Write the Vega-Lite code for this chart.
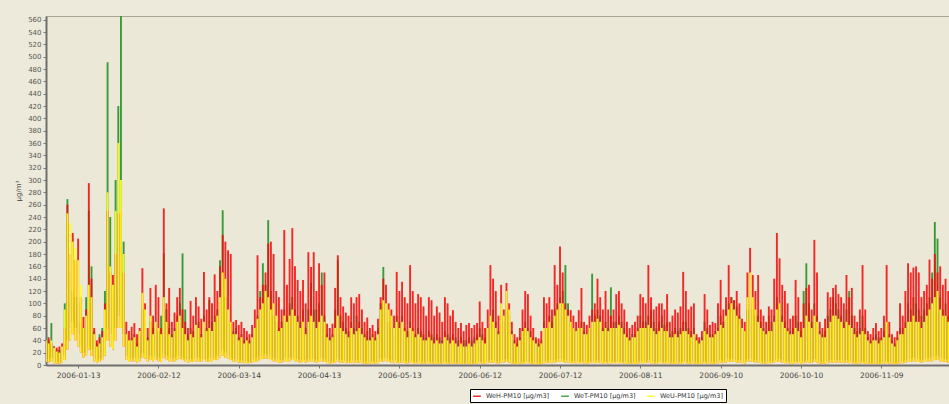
{
"$schema": "https://vega.github.io/schema/vega-lite/v6.json",
"width": 903,
"height": 349,
"autosize": {"type": "none"},
"padding": {"left": 46, "top": 16, "right": 0, "bottom": 39},
"background": "#EEEADB",
"config": {"view": {"fill": "#ECE8D8", "stroke": "#A8A496", "strokeWidth": 1}, "font": "DejaVu Sans", "axisY": {"labelOverlap": false}},
"data": {"values": [
{"d":"2006-01-01","h":40,"t":45,"u":40,"ul":12,"gl":5},
{"d":"2006-01-02","h":45,"t":40,"u":35,"ul":10,"gl":4},
{"d":"2006-01-03","h":35,"t":68,"u":40,"ul":12,"gl":6},
{"d":"2006-01-04","h":30,"t":30,"u":28,"ul":8,"gl":3},
{"d":"2006-01-05","h":28,"t":25,"u":22,"ul":5,"gl":2},
{"d":"2006-01-06","h":30,"t":25,"u":20,"ul":5,"gl":2},
{"d":"2006-01-07","h":35,"t":30,"u":30,"ul":8,"gl":4},
{"d":"2006-01-08","h":60,"t":100,"u":90,"ul":15,"gl":8},
{"d":"2006-01-09","h":260,"t":269,"u":246,"ul":40,"gl":25},
{"d":"2006-01-10","h":180,"t":150,"u":230,"ul":60,"gl":40},
{"d":"2006-01-11","h":214,"t":120,"u":200,"ul":70,"gl":50},
{"d":"2006-01-12","h":170,"t":110,"u":190,"ul":60,"gl":40},
{"d":"2006-01-13","h":205,"t":100,"u":170,"ul":50,"gl":30},
{"d":"2006-01-14","h":110,"t":70,"u":130,"ul":30,"gl":20},
{"d":"2006-01-15","h":78,"t":60,"u":60,"ul":20,"gl":12},
{"d":"2006-01-16","h":90,"t":110,"u":80,"ul":20,"gl":15},
{"d":"2006-01-17","h":295,"t":250,"u":130,"ul":30,"gl":25},
{"d":"2006-01-18","h":140,"t":160,"u":110,"ul":25,"gl":15},
{"d":"2006-01-19","h":60,"t":55,"u":50,"ul":10,"gl":6},
{"d":"2006-01-20","h":40,"t":35,"u":30,"ul":8,"gl":4},
{"d":"2006-01-21","h":45,"t":50,"u":35,"ul":10,"gl":5},
{"d":"2006-01-22","h":55,"t":60,"u":45,"ul":12,"gl":8},
{"d":"2006-01-23","h":100,"t":120,"u":90,"ul":20,"gl":15},
{"d":"2006-01-24","h":250,"t":491,"u":280,"ul":60,"gl":40},
{"d":"2006-01-25","h":150,"t":240,"u":160,"ul":50,"gl":30},
{"d":"2006-01-26","h":146,"t":120,"u":130,"ul":40,"gl":25},
{"d":"2006-01-27","h":180,"t":300,"u":250,"ul":60,"gl":40},
{"d":"2006-01-28","h":246,"t":420,"u":360,"ul":80,"gl":60},
{"d":"2006-01-29","h":250,"t":580,"u":300,"ul":80,"gl":60},
{"d":"2006-01-30","h":150,"t":200,"u":180,"ul":50,"gl":30},
{"d":"2006-01-31","h":70,"t":50,"u":50,"ul":15,"gl":8},
{"d":"2006-02-01","h":55,"t":40,"u":40,"ul":10,"gl":5},
{"d":"2006-02-02","h":62,"t":45,"u":40,"ul":10,"gl":6},
{"d":"2006-02-03","h":68,"t":50,"u":45,"ul":12,"gl":6},
{"d":"2006-02-04","h":50,"t":35,"u":30,"ul":8,"gl":4},
{"d":"2006-02-05","h":60,"t":50,"u":55,"ul":10,"gl":6},
{"d":"2006-02-06","h":157,"t":90,"u":117,"ul":20,"gl":12},
{"d":"2006-02-07","h":100,"t":70,"u":90,"ul":15,"gl":10},
{"d":"2006-02-08","h":60,"t":45,"u":40,"ul":10,"gl":5},
{"d":"2006-02-09","h":125,"t":70,"u":80,"ul":15,"gl":8},
{"d":"2006-02-10","h":80,"t":60,"u":50,"ul":12,"gl":6},
{"d":"2006-02-11","h":130,"t":60,"u":70,"ul":15,"gl":8},
{"d":"2006-02-12","h":110,"t":55,"u":60,"ul":12,"gl":6},
{"d":"2006-02-13","h":60,"t":80,"u":50,"ul":10,"gl":5},
{"d":"2006-02-14","h":254,"t":181,"u":110,"ul":20,"gl":12},
{"d":"2006-02-15","h":100,"t":90,"u":70,"ul":15,"gl":8},
{"d":"2006-02-16","h":125,"t":60,"u":50,"ul":12,"gl":6},
{"d":"2006-02-17","h":70,"t":50,"u":45,"ul":10,"gl":5},
{"d":"2006-02-18","h":85,"t":60,"u":55,"ul":12,"gl":6},
{"d":"2006-02-19","h":110,"t":80,"u":70,"ul":15,"gl":8},
{"d":"2006-02-20","h":125,"t":100,"u":80,"ul":15,"gl":10},
{"d":"2006-02-21","h":90,"t":181,"u":60,"ul":12,"gl":8},
{"d":"2006-02-22","h":70,"t":90,"u":50,"ul":10,"gl":6},
{"d":"2006-02-23","h":60,"t":50,"u":40,"ul":8,"gl":4},
{"d":"2006-02-24","h":104,"t":60,"u":50,"ul":10,"gl":5},
{"d":"2006-02-25","h":80,"t":55,"u":45,"ul":10,"gl":5},
{"d":"2006-02-26","h":110,"t":60,"u":65,"ul":12,"gl":6},
{"d":"2006-02-27","h":95,"t":70,"u":60,"ul":12,"gl":6},
{"d":"2006-02-28","h":75,"t":50,"u":45,"ul":10,"gl":5},
{"d":"2006-03-01","h":151,"t":80,"u":70,"ul":12,"gl":8},
{"d":"2006-03-02","h":90,"t":60,"u":55,"ul":10,"gl":5},
{"d":"2006-03-03","h":110,"t":105,"u":60,"ul":12,"gl":6},
{"d":"2006-03-04","h":100,"t":70,"u":55,"ul":10,"gl":5},
{"d":"2006-03-05","h":147,"t":80,"u":70,"ul":12,"gl":8},
{"d":"2006-03-06","h":120,"t":90,"u":80,"ul":15,"gl":8},
{"d":"2006-03-07","h":160,"t":170,"u":110,"ul":20,"gl":12},
{"d":"2006-03-08","h":211,"t":251,"u":150,"ul":25,"gl":15},
{"d":"2006-03-09","h":200,"t":110,"u":140,"ul":20,"gl":12},
{"d":"2006-03-10","h":186,"t":90,"u":90,"ul":15,"gl":10},
{"d":"2006-03-11","h":180,"t":70,"u":70,"ul":12,"gl":8},
{"d":"2006-03-12","h":70,"t":55,"u":50,"ul":10,"gl":5},
{"d":"2006-03-13","h":73,"t":60,"u":50,"ul":10,"gl":5},
{"d":"2006-03-14","h":65,"t":45,"u":40,"ul":8,"gl":4},
{"d":"2006-03-15","h":70,"t":50,"u":45,"ul":8,"gl":4},
{"d":"2006-03-16","h":60,"t":40,"u":35,"ul":6,"gl":3},
{"d":"2006-03-17","h":55,"t":45,"u":40,"ul":6,"gl":3},
{"d":"2006-03-18","h":50,"t":40,"u":35,"ul":5,"gl":3},
{"d":"2006-03-19","h":65,"t":50,"u":45,"ul":8,"gl":4},
{"d":"2006-03-20","h":90,"t":60,"u":60,"ul":10,"gl":5},
{"d":"2006-03-21","h":178,"t":80,"u":75,"ul":12,"gl":6},
{"d":"2006-03-22","h":110,"t":120,"u":90,"ul":15,"gl":8},
{"d":"2006-03-23","h":130,"t":165,"u":100,"ul":15,"gl":10},
{"d":"2006-03-24","h":150,"t":130,"u":120,"ul":18,"gl":10},
{"d":"2006-03-25","h":197,"t":235,"u":110,"ul":15,"gl":10},
{"d":"2006-03-26","h":200,"t":120,"u":90,"ul":12,"gl":8},
{"d":"2006-03-27","h":180,"t":80,"u":100,"ul":12,"gl":6},
{"d":"2006-03-28","h":120,"t":70,"u":80,"ul":10,"gl":5},
{"d":"2006-03-29","h":110,"t":60,"u":55,"ul":8,"gl":4},
{"d":"2006-03-30","h":90,"t":70,"u":60,"ul":8,"gl":4},
{"d":"2006-03-31","h":219,"t":90,"u":80,"ul":12,"gl":6},
{"d":"2006-04-01","h":130,"t":80,"u":70,"ul":10,"gl":5},
{"d":"2006-04-02","h":172,"t":100,"u":80,"ul":12,"gl":6},
{"d":"2006-04-03","h":222,"t":110,"u":90,"ul":12,"gl":8},
{"d":"2006-04-04","h":160,"t":90,"u":80,"ul":10,"gl":6},
{"d":"2006-04-05","h":138,"t":80,"u":70,"ul":10,"gl":5},
{"d":"2006-04-06","h":120,"t":70,"u":60,"ul":8,"gl":4},
{"d":"2006-04-07","h":138,"t":90,"u":70,"ul":10,"gl":5},
{"d":"2006-04-08","h":100,"t":60,"u":50,"ul":8,"gl":4},
{"d":"2006-04-09","h":183,"t":90,"u":70,"ul":10,"gl":5},
{"d":"2006-04-10","h":159,"t":133,"u":80,"ul":12,"gl":6},
{"d":"2006-04-11","h":183,"t":90,"u":70,"ul":10,"gl":5},
{"d":"2006-04-12","h":120,"t":90,"u":60,"ul":8,"gl":4},
{"d":"2006-04-13","h":165,"t":100,"u":70,"ul":10,"gl":5},
{"d":"2006-04-14","h":130,"t":150,"u":80,"ul":12,"gl":6},
{"d":"2006-04-15","h":150,"t":80,"u":70,"ul":10,"gl":5},
{"d":"2006-04-16","h":67,"t":50,"u":45,"ul":6,"gl":3},
{"d":"2006-04-17","h":60,"t":45,"u":40,"ul":5,"gl":2},
{"d":"2006-04-18","h":67,"t":50,"u":45,"ul":6,"gl":3},
{"d":"2006-04-19","h":125,"t":90,"u":60,"ul":8,"gl":4},
{"d":"2006-04-20","h":178,"t":170,"u":80,"ul":10,"gl":6},
{"d":"2006-04-21","h":110,"t":80,"u":60,"ul":8,"gl":4},
{"d":"2006-04-22","h":95,"t":70,"u":55,"ul":8,"gl":4},
{"d":"2006-04-23","h":85,"t":60,"u":50,"ul":6,"gl":3},
{"d":"2006-04-24","h":80,"t":55,"u":45,"ul":6,"gl":3},
{"d":"2006-04-25","h":110,"t":70,"u":60,"ul":8,"gl":4},
{"d":"2006-04-26","h":100,"t":60,"u":50,"ul":6,"gl":3},
{"d":"2006-04-27","h":110,"t":80,"u":55,"ul":8,"gl":4},
{"d":"2006-04-28","h":115,"t":70,"u":60,"ul":8,"gl":4},
{"d":"2006-04-29","h":90,"t":60,"u":50,"ul":6,"gl":3},
{"d":"2006-04-30","h":70,"t":50,"u":45,"ul":5,"gl":2},
{"d":"2006-05-01","h":77,"t":55,"u":40,"ul":5,"gl":2},
{"d":"2006-05-02","h":60,"t":45,"u":40,"ul":5,"gl":2},
{"d":"2006-05-03","h":65,"t":50,"u":45,"ul":6,"gl":3},
{"d":"2006-05-04","h":55,"t":45,"u":40,"ul":5,"gl":2},
{"d":"2006-05-05","h":75,"t":60,"u":50,"ul":6,"gl":3},
{"d":"2006-05-06","h":110,"t":100,"u":90,"ul":10,"gl":5},
{"d":"2006-05-07","h":140,"t":159,"u":105,"ul":12,"gl":6},
{"d":"2006-05-08","h":130,"t":100,"u":100,"ul":12,"gl":6},
{"d":"2006-05-09","h":100,"t":70,"u":90,"ul":10,"gl":5},
{"d":"2006-05-10","h":90,"t":60,"u":80,"ul":8,"gl":4},
{"d":"2006-05-11","h":80,"t":50,"u":60,"ul":6,"gl":3},
{"d":"2006-05-12","h":151,"t":80,"u":70,"ul":8,"gl":4},
{"d":"2006-05-13","h":120,"t":70,"u":60,"ul":6,"gl":3},
{"d":"2006-05-14","h":135,"t":80,"u":70,"ul":8,"gl":4},
{"d":"2006-05-15","h":110,"t":60,"u":55,"ul":6,"gl":3},
{"d":"2006-05-16","h":100,"t":55,"u":45,"ul":5,"gl":2},
{"d":"2006-05-17","h":162,"t":70,"u":60,"ul":8,"gl":4},
{"d":"2006-05-18","h":120,"t":60,"u":55,"ul":6,"gl":3},
{"d":"2006-05-19","h":100,"t":50,"u":45,"ul":5,"gl":2},
{"d":"2006-05-20","h":115,"t":60,"u":50,"ul":6,"gl":3},
{"d":"2006-05-21","h":110,"t":55,"u":45,"ul":5,"gl":2},
{"d":"2006-05-22","h":95,"t":50,"u":40,"ul":5,"gl":2},
{"d":"2006-05-23","h":80,"t":45,"u":40,"ul":5,"gl":2},
{"d":"2006-05-24","h":110,"t":55,"u":45,"ul":6,"gl":3},
{"d":"2006-05-25","h":105,"t":50,"u":40,"ul":5,"gl":2},
{"d":"2006-05-26","h":80,"t":45,"u":35,"ul":5,"gl":2},
{"d":"2006-05-27","h":95,"t":50,"u":40,"ul":5,"gl":2},
{"d":"2006-05-28","h":85,"t":45,"u":35,"ul":4,"gl":2},
{"d":"2006-05-29","h":70,"t":40,"u":35,"ul":4,"gl":2},
{"d":"2006-05-30","h":110,"t":55,"u":45,"ul":6,"gl":3},
{"d":"2006-05-31","h":100,"t":50,"u":40,"ul":5,"gl":2},
{"d":"2006-06-01","h":80,"t":45,"u":35,"ul":4,"gl":2},
{"d":"2006-06-02","h":89,"t":50,"u":40,"ul":5,"gl":2},
{"d":"2006-06-03","h":70,"t":45,"u":35,"ul":4,"gl":2},
{"d":"2006-06-04","h":60,"t":40,"u":30,"ul":4,"gl":2},
{"d":"2006-06-05","h":68,"t":45,"u":35,"ul":4,"gl":2},
{"d":"2006-06-06","h":55,"t":40,"u":30,"ul":3,"gl":1},
{"d":"2006-06-07","h":65,"t":40,"u":30,"ul":4,"gl":2},
{"d":"2006-06-08","h":68,"t":45,"u":35,"ul":4,"gl":2},
{"d":"2006-06-09","h":60,"t":40,"u":30,"ul":3,"gl":1},
{"d":"2006-06-10","h":65,"t":45,"u":35,"ul":4,"gl":2},
{"d":"2006-06-11","h":68,"t":50,"u":40,"ul":5,"gl":2},
{"d":"2006-06-12","h":103,"t":60,"u":45,"ul":6,"gl":3},
{"d":"2006-06-13","h":70,"t":50,"u":40,"ul":5,"gl":2},
{"d":"2006-06-14","h":60,"t":45,"u":35,"ul":4,"gl":2},
{"d":"2006-06-15","h":90,"t":60,"u":60,"ul":6,"gl":3},
{"d":"2006-06-16","h":162,"t":80,"u":80,"ul":8,"gl":4},
{"d":"2006-06-17","h":140,"t":90,"u":70,"ul":8,"gl":4},
{"d":"2006-06-18","h":120,"t":70,"u":60,"ul":6,"gl":3},
{"d":"2006-06-19","h":80,"t":55,"u":50,"ul":5,"gl":2},
{"d":"2006-06-20","h":130,"t":80,"u":100,"ul":8,"gl":4},
{"d":"2006-06-21","h":90,"t":70,"u":80,"ul":8,"gl":4},
{"d":"2006-06-22","h":133,"t":90,"u":120,"ul":10,"gl":5},
{"d":"2006-06-23","h":100,"t":80,"u":90,"ul":8,"gl":4},
{"d":"2006-06-24","h":70,"t":55,"u":50,"ul":5,"gl":2},
{"d":"2006-06-25","h":50,"t":40,"u":35,"ul":4,"gl":2},
{"d":"2006-06-26","h":45,"t":35,"u":30,"ul":3,"gl":1},
{"d":"2006-06-27","h":60,"t":45,"u":40,"ul":4,"gl":2},
{"d":"2006-06-28","h":90,"t":60,"u":55,"ul":5,"gl":2},
{"d":"2006-06-29","h":120,"t":70,"u":60,"ul":6,"gl":3},
{"d":"2006-06-30","h":115,"t":60,"u":55,"ul":6,"gl":3},
{"d":"2006-07-01","h":80,"t":55,"u":45,"ul":5,"gl":2},
{"d":"2006-07-02","h":60,"t":45,"u":40,"ul":4,"gl":2},
{"d":"2006-07-03","h":45,"t":40,"u":35,"ul":3,"gl":1},
{"d":"2006-07-04","h":43,"t":35,"u":30,"ul":3,"gl":1},
{"d":"2006-07-05","h":55,"t":40,"u":35,"ul":4,"gl":2},
{"d":"2006-07-06","h":110,"t":70,"u":60,"ul":6,"gl":3},
{"d":"2006-07-07","h":100,"t":60,"u":60,"ul":6,"gl":3},
{"d":"2006-07-08","h":110,"t":80,"u":70,"ul":8,"gl":4},
{"d":"2006-07-09","h":90,"t":70,"u":60,"ul":6,"gl":3},
{"d":"2006-07-10","h":162,"t":90,"u":80,"ul":8,"gl":4},
{"d":"2006-07-11","h":130,"t":100,"u":90,"ul":10,"gl":5},
{"d":"2006-07-12","h":192,"t":110,"u":100,"ul":10,"gl":5},
{"d":"2006-07-13","h":150,"t":120,"u":100,"ul":10,"gl":5},
{"d":"2006-07-14","h":100,"t":162,"u":90,"ul":8,"gl":4},
{"d":"2006-07-15","h":90,"t":100,"u":80,"ul":8,"gl":4},
{"d":"2006-07-16","h":89,"t":70,"u":70,"ul":6,"gl":3},
{"d":"2006-07-17","h":80,"t":60,"u":60,"ul":6,"gl":3},
{"d":"2006-07-18","h":70,"t":55,"u":55,"ul":5,"gl":2},
{"d":"2006-07-19","h":89,"t":60,"u":60,"ul":6,"gl":3},
{"d":"2006-07-20","h":125,"t":70,"u":60,"ul":6,"gl":3},
{"d":"2006-07-21","h":70,"t":55,"u":50,"ul":5,"gl":2},
{"d":"2006-07-22","h":65,"t":50,"u":50,"ul":5,"gl":2},
{"d":"2006-07-23","h":80,"t":60,"u":60,"ul":6,"gl":3},
{"d":"2006-07-24","h":90,"t":148,"u":70,"ul":6,"gl":3},
{"d":"2006-07-25","h":100,"t":80,"u":70,"ul":6,"gl":3},
{"d":"2006-07-26","h":140,"t":90,"u":75,"ul":8,"gl":4},
{"d":"2006-07-27","h":110,"t":80,"u":70,"ul":6,"gl":3},
{"d":"2006-07-28","h":90,"t":60,"u":55,"ul":5,"gl":2},
{"d":"2006-07-29","h":120,"t":70,"u":60,"ul":6,"gl":3},
{"d":"2006-07-30","h":90,"t":60,"u":55,"ul":5,"gl":2},
{"d":"2006-07-31","h":80,"t":126,"u":60,"ul":6,"gl":3},
{"d":"2006-08-01","h":90,"t":70,"u":60,"ul":6,"gl":3},
{"d":"2006-08-02","h":115,"t":70,"u":60,"ul":6,"gl":3},
{"d":"2006-08-03","h":120,"t":80,"u":65,"ul":6,"gl":3},
{"d":"2006-08-04","h":100,"t":70,"u":60,"ul":6,"gl":3},
{"d":"2006-08-05","h":90,"t":60,"u":50,"ul":5,"gl":2},
{"d":"2006-08-06","h":70,"t":50,"u":45,"ul":4,"gl":2},
{"d":"2006-08-07","h":60,"t":45,"u":40,"ul":4,"gl":2},
{"d":"2006-08-08","h":65,"t":50,"u":45,"ul":4,"gl":2},
{"d":"2006-08-09","h":70,"t":50,"u":45,"ul":5,"gl":2},
{"d":"2006-08-10","h":80,"t":60,"u":55,"ul":5,"gl":2},
{"d":"2006-08-11","h":115,"t":80,"u":60,"ul":6,"gl":3},
{"d":"2006-08-12","h":110,"t":70,"u":60,"ul":6,"gl":3},
{"d":"2006-08-13","h":100,"t":70,"u":60,"ul":6,"gl":3},
{"d":"2006-08-14","h":162,"t":80,"u":65,"ul":8,"gl":4},
{"d":"2006-08-15","h":110,"t":90,"u":60,"ul":6,"gl":3},
{"d":"2006-08-16","h":90,"t":70,"u":55,"ul":5,"gl":2},
{"d":"2006-08-17","h":95,"t":60,"u":50,"ul":5,"gl":2},
{"d":"2006-08-18","h":100,"t":70,"u":55,"ul":6,"gl":3},
{"d":"2006-08-19","h":100,"t":80,"u":60,"ul":6,"gl":3},
{"d":"2006-08-20","h":90,"t":65,"u":55,"ul":5,"gl":2},
{"d":"2006-08-21","h":115,"t":70,"u":55,"ul":6,"gl":3},
{"d":"2006-08-22","h":70,"t":50,"u":45,"ul":4,"gl":2},
{"d":"2006-08-23","h":80,"t":55,"u":45,"ul":5,"gl":2},
{"d":"2006-08-24","h":90,"t":60,"u":50,"ul":5,"gl":2},
{"d":"2006-08-25","h":85,"t":55,"u":45,"ul":5,"gl":2},
{"d":"2006-08-26","h":95,"t":60,"u":50,"ul":5,"gl":2},
{"d":"2006-08-27","h":151,"t":70,"u":55,"ul":6,"gl":3},
{"d":"2006-08-28","h":120,"t":70,"u":55,"ul":6,"gl":3},
{"d":"2006-08-29","h":90,"t":60,"u":50,"ul":5,"gl":2},
{"d":"2006-08-30","h":95,"t":55,"u":45,"ul":5,"gl":2},
{"d":"2006-08-31","h":100,"t":60,"u":50,"ul":5,"gl":2},
{"d":"2006-09-01","h":50,"t":45,"u":40,"ul":4,"gl":2},
{"d":"2006-09-02","h":45,"t":40,"u":35,"ul":3,"gl":1},
{"d":"2006-09-03","h":55,"t":45,"u":40,"ul":4,"gl":2},
{"d":"2006-09-04","h":115,"t":70,"u":55,"ul":6,"gl":3},
{"d":"2006-09-05","h":90,"t":60,"u":50,"ul":5,"gl":2},
{"d":"2006-09-06","h":65,"t":50,"u":45,"ul":4,"gl":2},
{"d":"2006-09-07","h":70,"t":50,"u":45,"ul":5,"gl":2},
{"d":"2006-09-08","h":68,"t":55,"u":50,"ul":5,"gl":2},
{"d":"2006-09-09","h":100,"t":60,"u":55,"ul":6,"gl":3},
{"d":"2006-09-10","h":138,"t":80,"u":65,"ul":8,"gl":4},
{"d":"2006-09-11","h":90,"t":70,"u":60,"ul":6,"gl":3},
{"d":"2006-09-12","h":110,"t":90,"u":80,"ul":8,"gl":4},
{"d":"2006-09-13","h":162,"t":100,"u":90,"ul":10,"gl":5},
{"d":"2006-09-14","h":110,"t":110,"u":100,"ul":10,"gl":5},
{"d":"2006-09-15","h":105,"t":105,"u":90,"ul":10,"gl":5},
{"d":"2006-09-16","h":120,"t":95,"u":80,"ul":8,"gl":4},
{"d":"2006-09-17","h":100,"t":80,"u":75,"ul":8,"gl":4},
{"d":"2006-09-18","h":75,"t":60,"u":60,"ul":6,"gl":3},
{"d":"2006-09-19","h":70,"t":55,"u":55,"ul":5,"gl":2},
{"d":"2006-09-20","h":150,"t":90,"u":110,"ul":10,"gl":5},
{"d":"2006-09-21","h":190,"t":100,"u":150,"ul":12,"gl":6},
{"d":"2006-09-22","h":146,"t":90,"u":110,"ul":10,"gl":5},
{"d":"2006-09-23","h":120,"t":80,"u":90,"ul":8,"gl":4},
{"d":"2006-09-24","h":146,"t":80,"u":70,"ul":8,"gl":4},
{"d":"2006-09-25","h":90,"t":70,"u":60,"ul":6,"gl":3},
{"d":"2006-09-26","h":80,"t":60,"u":55,"ul":5,"gl":2},
{"d":"2006-09-27","h":70,"t":55,"u":50,"ul":5,"gl":2},
{"d":"2006-09-28","h":95,"t":80,"u":55,"ul":6,"gl":3},
{"d":"2006-09-29","h":90,"t":70,"u":55,"ul":6,"gl":3},
{"d":"2006-09-30","h":140,"t":80,"u":70,"ul":8,"gl":4},
{"d":"2006-10-01","h":214,"t":110,"u":90,"ul":10,"gl":5},
{"d":"2006-10-02","h":173,"t":100,"u":100,"ul":10,"gl":5},
{"d":"2006-10-03","h":130,"t":80,"u":70,"ul":8,"gl":4},
{"d":"2006-10-04","h":120,"t":70,"u":60,"ul":6,"gl":3},
{"d":"2006-10-05","h":100,"t":60,"u":55,"ul":6,"gl":3},
{"d":"2006-10-06","h":75,"t":55,"u":50,"ul":5,"gl":2},
{"d":"2006-10-07","h":80,"t":60,"u":50,"ul":5,"gl":2},
{"d":"2006-10-08","h":138,"t":80,"u":60,"ul":6,"gl":3},
{"d":"2006-10-09","h":110,"t":70,"u":55,"ul":6,"gl":3},
{"d":"2006-10-10","h":70,"t":55,"u":45,"ul":5,"gl":2},
{"d":"2006-10-11","h":100,"t":120,"u":60,"ul":6,"gl":3},
{"d":"2006-10-12","h":125,"t":165,"u":80,"ul":8,"gl":4},
{"d":"2006-10-13","h":130,"t":100,"u":70,"ul":8,"gl":4},
{"d":"2006-10-14","h":90,"t":70,"u":60,"ul":6,"gl":3},
{"d":"2006-10-15","h":203,"t":100,"u":80,"ul":10,"gl":5},
{"d":"2006-10-16","h":150,"t":80,"u":70,"ul":8,"gl":4},
{"d":"2006-10-17","h":70,"t":55,"u":50,"ul":5,"gl":2},
{"d":"2006-10-18","h":60,"t":50,"u":45,"ul":5,"gl":2},
{"d":"2006-10-19","h":75,"t":55,"u":45,"ul":5,"gl":2},
{"d":"2006-10-20","h":118,"t":80,"u":60,"ul":6,"gl":3},
{"d":"2006-10-21","h":110,"t":90,"u":70,"ul":8,"gl":4},
{"d":"2006-10-22","h":125,"t":110,"u":80,"ul":8,"gl":4},
{"d":"2006-10-23","h":130,"t":100,"u":80,"ul":8,"gl":4},
{"d":"2006-10-24","h":115,"t":90,"u":75,"ul":8,"gl":4},
{"d":"2006-10-25","h":110,"t":80,"u":70,"ul":8,"gl":4},
{"d":"2006-10-26","h":100,"t":70,"u":60,"ul":6,"gl":3},
{"d":"2006-10-27","h":146,"t":90,"u":70,"ul":8,"gl":4},
{"d":"2006-10-28","h":110,"t":120,"u":65,"ul":6,"gl":3},
{"d":"2006-10-29","h":125,"t":80,"u":60,"ul":6,"gl":3},
{"d":"2006-10-30","h":80,"t":60,"u":50,"ul":5,"gl":2},
{"d":"2006-10-31","h":70,"t":55,"u":45,"ul":5,"gl":2},
{"d":"2006-11-01","h":90,"t":60,"u":50,"ul":5,"gl":2},
{"d":"2006-11-02","h":162,"t":80,"u":55,"ul":6,"gl":3},
{"d":"2006-11-03","h":90,"t":60,"u":50,"ul":5,"gl":2},
{"d":"2006-11-04","h":55,"t":45,"u":40,"ul":4,"gl":2},
{"d":"2006-11-05","h":50,"t":40,"u":35,"ul":3,"gl":1},
{"d":"2006-11-06","h":60,"t":45,"u":40,"ul":4,"gl":2},
{"d":"2006-11-07","h":68,"t":50,"u":40,"ul":4,"gl":2},
{"d":"2006-11-08","h":55,"t":45,"u":35,"ul":3,"gl":1},
{"d":"2006-11-09","h":60,"t":45,"u":40,"ul":4,"gl":2},
{"d":"2006-11-10","h":80,"t":55,"u":45,"ul":5,"gl":2},
{"d":"2006-11-11","h":162,"t":70,"u":70,"ul":6,"gl":3},
{"d":"2006-11-12","h":70,"t":50,"u":45,"ul":5,"gl":2},
{"d":"2006-11-13","h":50,"t":40,"u":35,"ul":4,"gl":2},
{"d":"2006-11-14","h":45,"t":35,"u":30,"ul":3,"gl":1},
{"d":"2006-11-15","h":55,"t":45,"u":40,"ul":4,"gl":2},
{"d":"2006-11-16","h":100,"t":60,"u":50,"ul":6,"gl":3},
{"d":"2006-11-17","h":80,"t":60,"u":50,"ul":6,"gl":3},
{"d":"2006-11-18","h":120,"t":70,"u":60,"ul":8,"gl":4},
{"d":"2006-11-19","h":165,"t":100,"u":70,"ul":10,"gl":5},
{"d":"2006-11-20","h":150,"t":90,"u":70,"ul":10,"gl":5},
{"d":"2006-11-21","h":158,"t":110,"u":80,"ul":12,"gl":6},
{"d":"2006-11-22","h":160,"t":100,"u":70,"ul":10,"gl":5},
{"d":"2006-11-23","h":150,"t":90,"u":70,"ul":10,"gl":5},
{"d":"2006-11-24","h":110,"t":80,"u":60,"ul":8,"gl":4},
{"d":"2006-11-25","h":120,"t":90,"u":70,"ul":10,"gl":5},
{"d":"2006-11-26","h":130,"t":100,"u":80,"ul":12,"gl":6},
{"d":"2006-11-27","h":171,"t":110,"u":90,"ul":12,"gl":6},
{"d":"2006-11-28","h":140,"t":150,"u":100,"ul":12,"gl":6},
{"d":"2006-11-29","h":180,"t":232,"u":110,"ul":15,"gl":8},
{"d":"2006-11-30","h":150,"t":205,"u":120,"ul":15,"gl":8},
{"d":"2006-12-01","h":160,"t":110,"u":90,"ul":12,"gl":6},
{"d":"2006-12-02","h":130,"t":90,"u":80,"ul":10,"gl":5},
{"d":"2006-12-03","h":140,"t":100,"u":80,"ul":10,"gl":5},
{"d":"2006-12-04","h":120,"t":80,"u":70,"ul":8,"gl":4}
]},
"encoding": {
  "x": {"field": "d", "type": "temporal", "title": null,
        "scale": {"type": "utc", "domain": [{"year": 2006, "month": 1, "date": 1, "utc": true}, {"year": 2006, "month": 12, "date": 4, "hours": 7, "utc": true}]},
        "axis": {"values": [
          {"year": 2006, "month": 1, "date": 13, "utc": true},
          {"year": 2006, "month": 2, "date": 12, "utc": true},
          {"year": 2006, "month": 3, "date": 14, "utc": true},
          {"year": 2006, "month": 4, "date": 13, "utc": true},
          {"year": 2006, "month": 5, "date": 13, "utc": true},
          {"year": 2006, "month": 6, "date": 12, "utc": true},
          {"year": 2006, "month": 7, "date": 12, "utc": true},
          {"year": 2006, "month": 8, "date": 11, "utc": true},
          {"year": 2006, "month": 9, "date": 10, "utc": true},
          {"year": 2006, "month": 10, "date": 10, "utc": true},
          {"year": 2006, "month": 11, "date": 9, "utc": true}],
          "labelExpr": "utcFormat(datum.value, '%Y-%m-%d')", "labelOverlap": false,
          "labelFontSize": 7.5, "labelColor": "#444444", "labelPadding": 3,
          "tickSize": 3, "tickColor": "#777777", "domainColor": "#6E6E6E", "domainWidth": 2, "grid": false}}
},
"layer": [
  {"mark": {"type": "rule", "strokeWidth": 1.9, "clip": true},
   "encoding": {
     "y": {"field": "ul", "type": "quantitative", "title": "µg/m³",
           "scale": {"domain": [0, 566], "nice": false, "zero": true},
           "axis": {"values": [0,20,40,60,80,100,120,140,160,180,200,220,240,260,280,300,320,340,360,380,400,420,440,460,480,500,520,540,560],
                    "labelOverlap": false, "labelFontSize": 7, "labelColor": "#555555", "tickSize": 3, "tickColor": "#777777",
                    "domainColor": "#6E6E6E", "domainWidth": 2, "grid": false,
                    "titleFontSize": 7, "titleFontWeight": "normal", "titleColor": "#444444", "titlePadding": 6}},
     "y2": {"field": "t"},
     "color": {"datum": "WeT-PM10 [µg/m3]", "type": "nominal",
               "scale": {"domain": ["WeH-PM10 [µg/m3]", "WeT-PM10 [µg/m3]", "WeU-PM10 [µg/m3]"], "range": ["#F20D0D", "#3A9A3A", "#FFFF22"]},
               "legend": {"orient": "none", "legendX": 424, "legendY": 373, "direction": "horizontal", "columns": 3,
                          "title": null, "symbolType": "stroke", "symbolSize": 60, "symbolStrokeWidth": 1.5,
                          "labelFontSize": 6.5, "labelColor": "#333333", "padding": 2, "columnPadding": 8,
                          "fillColor": "#FFFFFF", "strokeColor": "#000000"}}
   }},
  {"mark": {"type": "rule", "strokeWidth": 1.9, "clip": true, "opacity": 0.88},
   "encoding": {
     "y": {"field": "gl", "type": "quantitative", "title": "µg/m³",
           "axis": {"values": [0,20,40,60,80,100,120,140,160,180,200,220,240,260,280,300,320,340,360,380,400,420,440,460,480,500,520,540,560],
                    "labelOverlap": false, "labelFontSize": 7, "labelColor": "#555555", "tickSize": 3, "tickColor": "#777777",
                    "domainColor": "#6E6E6E", "domainWidth": 2, "grid": false,
                    "titleFontSize": 7, "titleFontWeight": "normal", "titleColor": "#444444", "titlePadding": 6}},
     "y2": {"field": "h"},
     "color": {"datum": "WeH-PM10 [µg/m3]", "type": "nominal"}
   }},
  {"mark": {"type": "rule", "strokeWidth": 1.9, "clip": true, "opacity": 0.92},
   "encoding": {
     "y": {"field": "gl", "type": "quantitative", "title": "µg/m³",
           "axis": {"values": [0,20,40,60,80,100,120,140,160,180,200,220,240,260,280,300,320,340,360,380,400,420,440,460,480,500,520,540,560],
                    "labelOverlap": false, "labelFontSize": 7, "labelColor": "#555555", "tickSize": 3, "tickColor": "#777777",
                    "domainColor": "#6E6E6E", "domainWidth": 2, "grid": false,
                    "titleFontSize": 7, "titleFontWeight": "normal", "titleColor": "#444444", "titlePadding": 6}},
     "y2": {"field": "u"},
     "color": {"datum": "WeU-PM10 [µg/m3]", "type": "nominal"}
   }}
]
}
